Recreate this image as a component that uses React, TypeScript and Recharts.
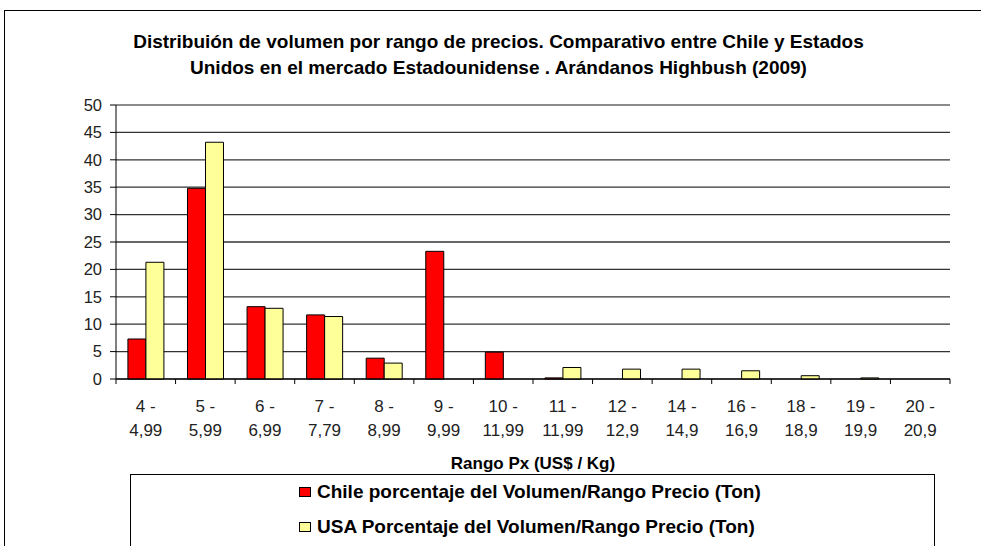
import React from "react";
import {
  BarChart,
  Bar,
  XAxis,
  YAxis,
  CartesianGrid,
  ReferenceLine,
} from "recharts";

const rangeFrom = ["4 -", "5 -", "6 -", "7 -", "8 -", "9 -", "10 -", "11 -", "12 -", "14 -", "16 -", "18 -", "19 -", "20 -"];
const rangeTo = ["4,99", "5,99", "6,99", "7,79", "8,99", "9,99", "11,99", "11,99", "12,9", "14,9", "16,9", "18,9", "19,9", "20,9"];
const chileValues = [7.3, 34.8, 13.2, 11.7, 3.8, 23.3, 4.9, 0.2, 0, 0, 0, 0, 0, 0];
const usaValues = [21.3, 43.2, 12.9, 11.4, 2.9, 0, 0, 2.1, 1.8, 1.8, 1.5, 0.6, 0.2, 0];
const yTicks = [0, 5, 10, 15, 20, 25, 30, 35, 40, 45, 50];

const W = 981;
const H = 546;
const MARGIN = { top: 105, right: 31, left: 0, bottom: 77 };
const Y_AXIS_W = 116;
const X_AXIS_H = 90;
const AXIS_Y = H - MARGIN.bottom - X_AXIS_H;
const HALF_BAND = (W - MARGIN.right - Y_AXIS_W) / rangeFrom.length / 2;
const FONT = "'Liberation Sans', Arial, sans-serif";

const data = rangeFrom.map((from, i) => ({
  name: `${from} ${rangeTo[i]}`,
  chile: chileValues[i],
  usa: usaValues[i],
}));

// Excel-style category axis: ticks between categories, two-line labels
function RangeTick(props: any) {
  const { x, index } = props;
  const last = index === rangeFrom.length - 1;
  return (
    <g>
      <line x1={x - HALF_BAND} x2={x - HALF_BAND} y1={AXIS_Y} y2={AXIS_Y + 5} stroke="#000" />
      {last && (
        <line x1={x + HALF_BAND} x2={x + HALF_BAND} y1={AXIS_Y} y2={AXIS_Y + 5} stroke="#000" />
      )}
      <text x={x} y={AXIS_Y + 33} textAnchor="middle" fontSize={17} fill="#222" fontFamily={FONT}>
        {rangeFrom[index]}
      </text>
      <text x={x} y={AXIS_Y + 57} textAnchor="middle" fontSize={17} fill="#222" fontFamily={FONT}>
        {rangeTo[index]}
      </text>
    </g>
  );
}

const legendItems = [
  { label: "Chile porcentaje del Volumen/Rango Precio (Ton)", color: "#ff0000", top: 6 },
  { label: "USA Porcentaje del Volumen/Rango Precio (Ton)", color: "#ffff99", top: 41 },
];

export default function App() {
  return (
    <div
      style={{
        position: "absolute",
        left: 0,
        top: 0,
        width: W,
        height: H,
        overflow: "hidden",
        background: "#fff",
        fontFamily: FONT,
      }}
    >
      <div
        style={{
          position: "absolute",
          left: 4,
          top: 10,
          width: W,
          height: H,
          borderTop: "1.5px solid #000",
          borderLeft: "1.5px solid #000",
        }}
      />
      <div
        style={{
          position: "absolute",
          left: 9,
          top: 29,
          width: W - 2,
          textAlign: "center",
          fontSize: 19,
          fontWeight: "bold",
          lineHeight: "26px",
          color: "#000",
          whiteSpace: "nowrap",
        }}
      >
        Distribuión de volumen por rango de precios. Comparativo entre Chile y Estados
        <br />
        Unidos en el mercado Estadounidense . Arándanos Highbush (2009)
      </div>

      <BarChart
        width={W}
        height={H}
        data={data}
        margin={MARGIN}
        barCategoryGap="20%"
        barGap={0}
        style={{ position: "absolute", left: 0, top: 0 }}
      >
        <CartesianGrid vertical={false} stroke="#333" strokeWidth={1.3} />
        <ReferenceLine y={50} stroke="#999" strokeWidth={1.5} />
        <XAxis
          dataKey="name"
          height={X_AXIS_H}
          interval={0}
          tickLine={false}
          axisLine={{ stroke: "#000" }}
          tick={<RangeTick />}
          label={{
            value: "Rango Px (US$ / Kg)",
            position: "insideBottom",
            offset: 0,
            fontSize: 17,
            fontWeight: "bold",
            fill: "#000",
            fontFamily: FONT,
          }}
        />
        <YAxis
          width={Y_AXIS_W}
          domain={[0, 50]}
          ticks={yTicks}
          interval={0}
          tickSize={6}
          tickMargin={8}
          axisLine={{ stroke: "#000" }}
          tickLine={{ stroke: "#000" }}
          tick={{ fontSize: 16.5, fill: "#222", fontFamily: FONT }}
        />
        <YAxis
          yAxisId="frame"
          orientation="right"
          width={0}
          domain={[0, 50]}
          tick={false}
          tickLine={false}
          axisLine={{ stroke: "#999", strokeWidth: 1.5 }}
        />
        <Bar dataKey="chile" fill="#ff0000" stroke="#000" strokeWidth={1} isAnimationActive={false} />
        <Bar dataKey="usa" fill="#ffff99" stroke="#000" strokeWidth={1} isAnimationActive={false} />
      </BarChart>

      <div
        style={{
          position: "absolute",
          left: 130,
          top: 474,
          width: 805,
          height: 90,
          border: "1.5px solid #000",
          boxSizing: "border-box",
        }}
      >
        {legendItems.map((item) => (
          <div
            key={item.label}
            style={{
              position: "absolute",
              left: 168,
              top: item.top,
              height: 22,
              display: "flex",
              alignItems: "center",
              fontSize: 19,
              fontWeight: "bold",
              whiteSpace: "nowrap",
            }}
          >
            <span
              style={{
                display: "inline-block",
                width: 10,
                height: 8,
                background: item.color,
                border: "1px solid #000",
                marginRight: 6,
              }}
            />
            {item.label}
          </div>
        ))}
      </div>
    </div>
  );
}
